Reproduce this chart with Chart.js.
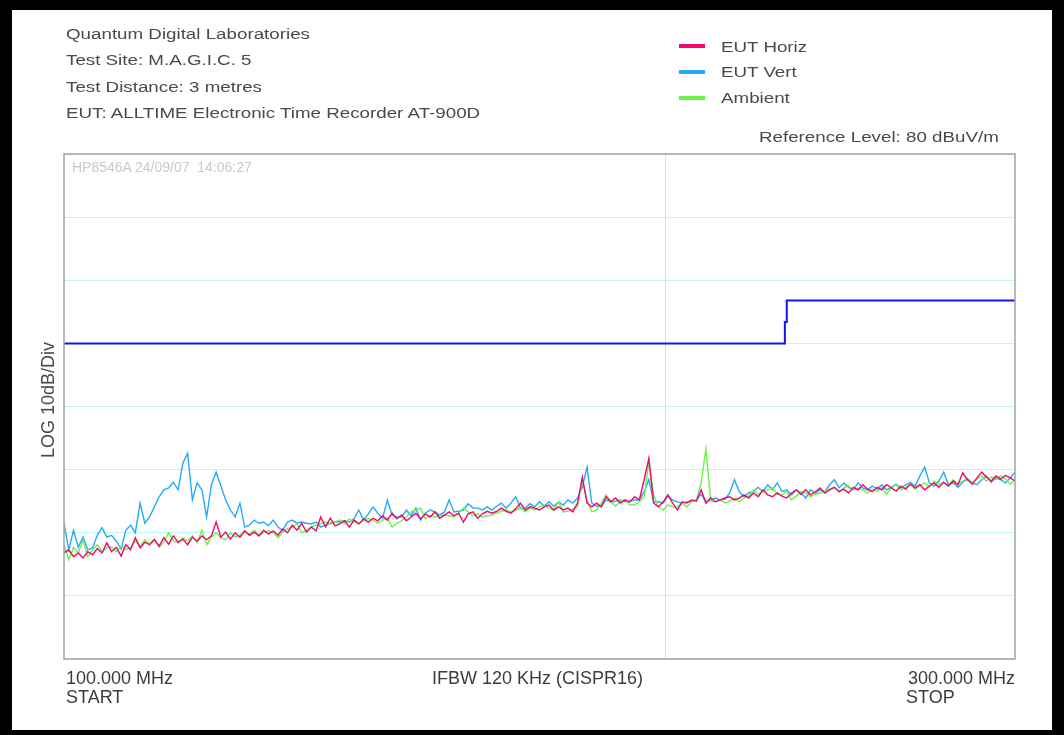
<!DOCTYPE html>
<html>
<head>
<meta charset="utf-8">
<script src="https://cdn.jsdelivr.net/npm/chart.js@4/dist/chart.umd.min.js"></script>
<style>
  html, body { margin: 0; padding: 0; background: #000; }
  #wrap { position: relative; width: 1064px; height: 735px; background: #000; overflow: hidden; }
  #paper { position: absolute; left: 12px; top: 10px; width: 1040px; height: 720px; background: #fff; }
  canvas { position: absolute; left: 0; top: 0; }
  .t { position: absolute; font-family: "Liberation Sans", Arial, sans-serif; line-height: 1; white-space: nowrap; color: #4a4a4a; }
  .hdr { font-size: 15.5px; transform: scaleX(1.21); transform-origin: 0 0; }
  .bot { font-size: 18px; color: #3c3c3c; }
  .sw { position: absolute; width: 26px; height: 4px; }
</style>
</head>
<body>
<div id="wrap">
  <div id="paper"></div>
  <canvas id="c" width="1064" height="735"></canvas>
  <div id="texts"></div>
</div>
<script>
// ---- Data ----
const FREQ_START = 100;   // MHz
const FREQ_STOP = 300;    // MHz
const FREQ_STEP = 1;      // MHz sweep step
const REF_LEVEL = 80;     // dBuV/m (top of screen)
const DB_PER_DIV = 10;

const SERIES_NAMES = ["EUT Horiz", "EUT Vert", "Ambient"];
const SERIES_COLORS = ["#f5066e", "#27aaf7", "#6cf24a"];

const HORIZ = [16.8,17.3,16.2,16.8,16.0,17.0,16.5,17.5,16.8,18.4,
17.0,17.7,16.3,18.1,17.3,19.2,17.6,18.5,18.1,18.9,
17.9,19.2,18.2,19.5,18.5,19.0,18.1,19.3,18.7,19.5,
18.9,19.5,21.7,19.3,20.1,19.0,20.0,19.3,20.3,19.6,
20.1,19.5,20.4,19.8,20.3,19.6,20.6,20.0,21.2,20.4,
21.5,20.1,20.9,20.3,22.5,20.9,22.3,21.1,21.4,21.9,
20.9,22.0,21.4,22.2,21.7,22.3,21.9,22.7,22.0,23.1,
22.2,22.8,21.9,22.5,23.1,22.2,23.0,22.5,23.3,22.3,
22.8,23.3,22.7,23.1,21.7,23.0,23.3,22.3,23.0,23.4,
23.1,23.4,23.9,23.4,23.1,23.8,24.7,23.6,24.1,23.9,
23.6,24.1,24.4,23.6,24.1,23.6,23.9,23.3,24.7,28.8,
24.7,24.1,24.7,24.1,25.7,24.9,25.5,24.7,25.2,24.9,
25.7,25.2,28.4,31.8,24.7,24.1,24.9,26.0,24.7,23.6,
24.9,24.7,25.2,25.0,26.8,24.7,25.5,24.9,25.2,25.5,
25.7,25.2,25.5,26.0,25.5,26.3,25.7,26.8,26.0,25.7,
26.3,25.8,25.5,26.3,26.8,26.1,26.8,26.0,26.5,27.1,
26.3,26.8,27.2,26.5,26.9,26.3,27.2,26.8,27.6,26.9,
26.5,27.2,26.8,27.6,27.1,26.6,27.4,26.9,27.7,27.1,
27.6,26.8,27.4,27.9,27.2,28.0,27.4,28.2,27.6,29.5,
28.4,27.7,28.7,29.6,28.8,28.2,29.0,28.5,29.1,28.7,
28.2];

const VERT = [21.5,17.3,20.4,17.7,19.3,17.3,17.6,19.6,20.8,19.3,
19.6,18.7,17.4,20.4,21.2,20.0,24.7,21.5,22.5,24.1,
25.7,26.8,27.1,28.0,26.8,31.0,32.6,25.2,27.9,26.8,
22.5,27.6,29.6,27.4,25.2,23.6,22.5,24.7,20.9,21.2,
22.0,21.5,21.7,21.1,22.0,20.9,20.4,21.7,22.0,21.5,
21.7,21.5,21.4,21.7,20.9,21.2,21.5,21.7,21.7,21.9,
21.7,22.2,23.6,22.0,23.0,24.1,23.1,22.3,25.2,22.8,
22.5,22.5,23.6,22.7,23.9,22.0,23.1,23.6,23.3,22.8,
23.3,25.2,23.3,23.4,23.6,24.6,23.9,23.9,23.6,24.1,
23.6,24.2,24.7,23.9,24.7,25.7,23.9,23.9,24.6,24.1,
24.9,24.2,24.9,24.2,24.9,24.4,25.2,24.7,25.5,27.2,
30.4,24.7,24.2,24.2,25.2,24.9,25.0,25.2,24.9,25.0,
25.2,25.2,26.5,28.4,24.9,24.9,24.7,25.8,25.2,24.9,
24.7,24.9,25.0,25.2,26.1,24.9,25.2,25.5,25.2,25.3,
26.3,28.4,26.5,25.7,26.3,26.6,27.2,26.5,27.6,26.8,
27.9,26.5,26.8,26.0,26.8,26.3,25.5,26.8,26.3,26.8,
26.5,27.6,28.4,27.1,27.9,27.2,26.8,27.9,27.1,26.8,
27.4,26.9,27.6,26.8,27.2,27.7,27.1,27.6,28.0,27.4,
29.0,30.4,27.9,27.4,28.2,29.6,27.6,27.9,27.2,28.0,
28.5,27.9,27.6,28.4,29.0,28.0,28.7,28.4,27.9,28.7,
29.6];

const AMBIENT = [18.1,15.7,17.7,16.8,18.9,16.2,17.3,18.1,17.0,17.6,
17.7,17.0,17.9,17.3,17.7,18.7,17.9,18.9,18.2,19.0,
17.7,18.5,20.0,18.7,18.4,19.2,18.7,19.5,18.4,20.4,
18.1,19.3,20.0,19.2,18.9,20.0,19.3,19.6,20.1,19.8,
20.4,19.6,20.0,20.3,20.0,19.2,20.1,20.6,20.9,21.4,
20.0,20.4,20.9,21.2,21.4,21.7,21.4,21.7,22.0,21.5,
22.2,21.7,21.4,21.9,22.3,22.0,21.5,22.0,22.3,20.9,
21.5,21.9,22.5,23.3,23.6,23.9,22.2,22.7,22.5,22.7,
22.8,22.7,22.5,23.1,23.9,23.3,22.7,23.0,22.5,22.7,
22.8,23.1,23.4,23.6,23.3,23.6,23.9,23.3,23.9,23.6,
24.1,24.4,23.9,23.6,24.9,23.3,23.4,23.8,24.1,28.4,
25.2,23.3,23.6,24.7,26.0,25.0,24.2,25.0,25.3,24.4,
24.4,24.9,25.7,31.2,26.0,24.1,23.6,24.4,24.1,24.1,
24.7,24.1,24.9,25.2,27.9,33.3,25.0,24.9,25.2,24.7,
25.0,25.5,24.9,25.5,25.8,26.8,26.1,26.5,26.8,27.1,
26.1,26.0,26.5,25.2,25.8,26.5,26.3,25.7,26.1,26.3,
26.6,26.9,27.2,26.5,27.1,27.4,26.8,27.1,26.8,26.3,
26.9,26.6,27.2,26.1,27.1,27.6,26.8,27.2,27.7,26.9,
27.4,27.9,27.2,28.2,27.6,28.0,27.4,28.4,27.7,28.2,
28.7,27.9,28.5,29.0,28.2,28.8,28.4,29.0,28.5,27.7,
28.4];

// limit line (step)
const LIMIT_FREQ = [100, 251.6, 251.6, 252.0, 252.0, 300];
const LIMIT_DB   = [50, 50, 53.4, 53.4, 56.8, 56.8];
const MARKER_FREQ = 226.4;

const HEADER_LINES = ["Quantum Digital Laboratories", "Test Site: M.A.G.I.C. 5", "Test Distance: 3 metres", "EUT: ALLTIME Electronic Time Recorder AT-900D"];
const REF_TEXT = "Reference Level: 80 dBuV/m";
const STAMP_TEXT = "HP8546A 24/09/07\u00a0\u00a014:06:27";
const Y_TITLE = "LOG 10dB/Div";
const START_LABELS = ["100.000 MHz", "START"];
const CENTER_LABEL = "IFBW 120 KHz (CISPR16)";
const STOP_LABELS = ["300.000 MHz", "STOP"];

// ---- Build ----
function toPoints(arr) { return arr.map((v, i) => ({ x: FREQ_START + i * FREQ_STEP, y: v })); }

const traceStyle = (i) => ({
  borderColor: SERIES_COLORS[i], borderWidth: 1.4, pointRadius: 0, tension: 0, fill: false
});

const datasets = [
  Object.assign({ label: SERIES_NAMES[0], data: toPoints(HORIZ) }, traceStyle(0)),
  Object.assign({ label: SERIES_NAMES[2], data: toPoints(AMBIENT) }, traceStyle(2)),
  Object.assign({ label: SERIES_NAMES[1], data: toPoints(VERT) }, traceStyle(1)),
  { label: "Limit", data: LIMIT_FREQ.map((f, i) => ({ x: f, y: LIMIT_DB[i] })), borderColor: "#1414f0", borderWidth: 2, pointRadius: 0, tension: 0, fill: false }
];

const framePlugin = {
  id: "frame",
  beforeDatasetsDraw(chart) {
    const { ctx, chartArea: a, scales } = chart;
    const x = Math.round(scales.x.getPixelForValue(MARKER_FREQ)) + 0.5;
    ctx.save();
    ctx.strokeStyle = "#b4f1f5";
    ctx.lineWidth = 1;
    ctx.beginPath(); ctx.moveTo(x, a.top); ctx.lineTo(x, a.bottom); ctx.stroke();
    ctx.restore();
  },
  afterDraw(chart) {
    const { ctx, chartArea: a } = chart;
    ctx.save();
    ctx.strokeStyle = "#a3a3a3";
    ctx.lineWidth = 1.5;
    ctx.strokeRect(a.left, a.top, a.right - a.left, a.bottom - a.top);
    ctx.restore();
  }
};

new Chart(document.getElementById("c"), {
  type: "line",
  data: { datasets },
  options: {
    responsive: false,
    animation: false,
    layout: { padding: { left: 64, top: 154, right: 49, bottom: 76 } },
    plugins: { legend: { display: false }, tooltip: { enabled: false }, title: { display: false } },
    scales: {
      x: {
        type: "linear", min: FREQ_START, max: FREQ_STOP,
        ticks: { display: false }, grid: { display: false, drawTicks: false }, border: { display: false },
        afterFit: (s) => { s.height = 0; }
      },
      y: {
        type: "linear", min: REF_LEVEL - 8 * DB_PER_DIV, max: REF_LEVEL,
        ticks: { display: false, stepSize: DB_PER_DIV },
        grid: { color: "#bff5f7", lineWidth: 1, drawTicks: false }, border: { display: false },
        afterFit: (s) => { s.width = 0; }
      }
    }
  },
  plugins: [framePlugin]
});

// ---- Texts ----
const T = document.getElementById("texts");
function addText(txt, cls, left, top, extra) {
  const d = document.createElement("div");
  d.className = "t " + cls;
  d.textContent = txt;
  d.style.left = left + "px";
  d.style.top = top + "px";
  if (extra) Object.assign(d.style, extra);
  T.appendChild(d);
  return d;
}
const hdrTops = [25.5, 52, 78.5, 105];
HEADER_LINES.forEach((s, i) => addText(s, "hdr", 66, hdrTops[i]));
const legTops = [39.2, 64.4, 90.4];
const swY = [44, 70, 96];
[0, 1, 2].forEach(i => {
  const sw = document.createElement("div");
  sw.className = "sw";
  sw.style.left = "679px"; sw.style.top = swY[i] + "px";
  sw.style.background = SERIES_COLORS[i];
  T.appendChild(sw);
  addText(SERIES_NAMES[i], "hdr", 721, legTops[i]);
});
addText(REF_TEXT, "hdr", 759, 129.2);
addText(STAMP_TEXT, "", 72, 159.5, { fontSize: "14px", color: "#c9c9c9" });
addText(START_LABELS[0], "bot", 66, 669);
addText(START_LABELS[1], "bot", 66, 688);
addText(CENTER_LABEL, "bot", 432, 669);
const s0 = addText(STOP_LABELS[0], "bot", 0, 669); s0.style.left = ""; s0.style.right = (1064 - 1015) + "px";
addText(STOP_LABELS[1], "bot", 906, 688);
addText(Y_TITLE, "", 47.7 - 100, 400 - 9, { fontSize: "18px", width: "200px", textAlign: "center", transform: "rotate(-90deg)", transformOrigin: "50% 50%", color: "#4a4a4a" });
</script>
</body>
</html>
